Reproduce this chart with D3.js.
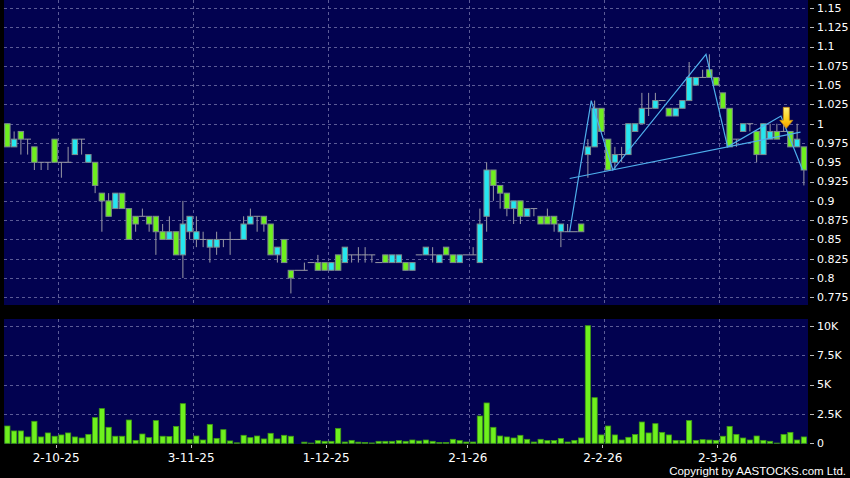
<!DOCTYPE html>
<html>
<head>
<meta charset="utf-8">
<script src="https://cdn.jsdelivr.net/npm/d3@7/dist/d3.min.js"></script>
<style>
  html, body { margin: 0; padding: 0; background: #000; }
  svg { display: block; }
</style>
</head>
<body>
<svg id="chart"></svg>
<script>
// daily candles, oldest first (index 0 .. 118)
const opens  = [1.00,0.97,0.99,0.98,0.97,0.95,0.95,0.98,0.95,0.95, 0.96,0.98,0.95,0.95,0.91,0.90,0.89,0.91,0.89,0.88,
                0.88,0.88,0.88,0.86,0.85,0.86,0.83,0.86,0.85,0.85, 0.84,0.84,0.85,0.85,0.85,0.85,0.87,0.88,0.88,0.87,
                0.83,0.85,0.81,0.81,0.81,0.82,0.82,0.82,0.81,0.83, 0.82,0.83,0.83,0.83,0.83,0.82,0.83,0.82,0.82,0.82,
                0.81,0.83,0.83,0.83,0.82,0.84,0.83,0.82,0.83,0.83, 0.82,0.88,0.94,0.92,0.91,0.89,0.90,0.88,0.89,0.88,
                0.88,0.88,0.86,0.86,0.86,0.87,0.96,0.97,1.02,0.98, 0.95,0.96,0.96,0.99,1.00,1.02,1.02,1.03,1.02,1.01,
                1.02,1.03,1.05,1.06,1.07,1.06,1.04,1.02,0.98,0.99, 1.00,0.99,0.96,0.98,0.99,0.99,0.99,0.97,0.97];
const highs  = [1.00,0.99,0.99,0.98,0.97,0.95,0.95,0.98,0.95,0.97, 0.98,0.98,0.96,0.95,0.91,0.91,0.91,0.91,0.89,0.88,
                0.89,0.88,0.88,0.87,0.88,0.86,0.90,0.88,0.88,0.86, 0.85,0.86,0.85,0.86,0.85,0.88,0.89,0.88,0.88,0.87,
                0.84,0.85,0.81,0.81,0.82,0.82,0.83,0.82,0.82,0.83, 0.84,0.83,0.84,0.84,0.83,0.82,0.83,0.83,0.83,0.82,
                0.82,0.83,0.84,0.84,0.83,0.84,0.83,0.83,0.83,0.84, 0.89,0.95,0.94,0.92,0.91,0.90,0.90,0.89,0.89,0.88,
                0.89,0.88,0.87,0.87,0.86,0.87,0.98,1.03,1.02,0.98, 0.97,0.97,1.00,1.00,1.04,1.04,1.04,1.03,1.02,1.02,
                1.03,1.08,1.06,1.07,1.09,1.06,1.04,1.02,0.98,1.00, 1.00,0.99,1.00,1.00,1.00,1.00,0.99,1.00,0.97];
const lows   = [0.97,0.97,0.96,0.96,0.94,0.94,0.94,0.95,0.93,0.95, 0.96,0.96,0.95,0.91,0.86,0.88,0.89,0.89,0.85,0.86,
                0.88,0.86,0.83,0.85,0.85,0.83,0.80,0.85,0.84,0.84, 0.82,0.83,0.84,0.83,0.85,0.85,0.87,0.86,0.86,0.83,
                0.82,0.82,0.78,0.81,0.81,0.82,0.81,0.81,0.81,0.81, 0.82,0.82,0.82,0.82,0.82,0.82,0.82,0.82,0.82,0.81,
                0.81,0.83,0.83,0.82,0.82,0.83,0.82,0.82,0.83,0.83, 0.82,0.86,0.90,0.89,0.88,0.87,0.87,0.88,0.88,0.87,
                0.87,0.86,0.84,0.86,0.86,0.86,0.93,0.97,0.99,0.94, 0.94,0.95,0.96,0.99,1.00,1.01,1.02,1.03,1.01,1.01,
                1.02,1.03,1.05,1.06,1.06,1.05,1.02,0.97,0.97,0.99, 0.99,0.95,0.96,0.98,0.98,0.99,0.97,0.97,0.92];
const closes = [0.97,0.98,0.98,0.98,0.95,0.95,0.95,0.95,0.95,0.95, 0.98,0.98,0.96,0.92,0.90,0.88,0.91,0.89,0.85,0.87,
                0.88,0.87,0.86,0.85,0.86,0.83,0.87,0.88,0.86,0.85, 0.85,0.85,0.85,0.85,0.85,0.87,0.88,0.88,0.87,0.83,
                0.84,0.82,0.80,0.81,0.81,0.82,0.81,0.81,0.82,0.81, 0.84,0.83,0.83,0.83,0.83,0.82,0.82,0.83,0.83,0.81,
                0.82,0.83,0.84,0.83,0.83,0.83,0.82,0.83,0.83,0.83, 0.87,0.94,0.92,0.91,0.89,0.90,0.88,0.89,0.89,0.87,
                0.87,0.87,0.87,0.86,0.86,0.86,0.97,1.02,0.99,0.94, 0.96,0.96,1.00,1.00,1.02,1.02,1.03,1.03,1.01,1.02,
                1.03,1.06,1.06,1.06,1.06,1.05,1.02,0.97,0.98,1.00, 1.00,0.96,1.00,0.99,0.98,0.99,0.97,0.98,0.94];
const volumes = [1470,1050,1050,540,1870,540,880,600,710,880, 540,450,760,2180,2950,1360,600,600,1980,250,
                 790,480,1930,600,570,1440,3370,310,620,280, 1610,420,1160,200,40,680,480,620,370,850,
                 370,680,600,0,100,20,230,170,170,1270, 110,250,100,60,30,170,170,170,230,170,
                 280,200,280,170,60,60,340,230,110,110, 2320,3430,1360,620,540,450,680,340,110,340,
                 230,230,400,110,250,450,10000,3880,710,1470, 710,280,510,740,1810,880,1670,930,710,250,
                 230,1930,250,310,280,250,600,1440,760,450, 280,620,250,170,20,760,930,280,540];

// axis ticks
const priceTicks = [1.15,1.125,1.1,1.075,1.05,1.025,1,0.975,0.95,0.925,0.9,0.875,0.85,0.825,0.8,0.775];
const volTicks = [0,2500,5000,7500,10000];
const volTickLabels = ['0','2.5K','5K','7.5K','10K'];
const dateLabels = ['2-10-25','3-11-25','1-12-25','2-1-26','2-2-26','2-3-26'];
const dateIndex = [7,27,47,68,88,105];

// pattern annotation (zigzag + neckline) and sell signal
const zigzagIdx = [83.3,86.5,89.7,103.5,106.7,114.6,117.8];
const zigzagPrice = [0.86,1.03,0.94,1.09,0.97,1.01,0.94];
const necklineIdx = [83.3,117.5];
const necklinePrice = [0.929,0.989];
const signalIdx = 115.4;
const signalPrice = 0.994;

class CandleChart {

    constructor(_config, _data) {
        this.config = {
            parentElement: _config.parentElement,
            containerWidth: _config.containerWidth || 850,
            containerHeight: _config.containerHeight || 478,
            plotLeft: 4,
            plotRight: 808,
            price: { top: 0, bottom: 305 },
            volume: { top: 319, bottom: 444 }
        }
        this.data = _data;
        this.initVis();
    }

    initVis() {
        let vis = this;
        const c = vis.config;

        vis.svg = d3.select(c.parentElement)
            .attr('width', c.containerWidth)
            .attr('height', c.containerHeight)
            .style('background', '#000');

        // panels
        vis.svg.append('rect')
            .attr('x', c.plotLeft).attr('y', c.price.top)
            .attr('width', c.plotRight - c.plotLeft).attr('height', c.price.bottom - c.price.top)
            .attr('fill', '#020250');
        vis.svg.append('rect')
            .attr('x', c.plotLeft).attr('y', c.volume.top)
            .attr('width', c.plotRight - c.plotLeft).attr('height', c.volume.bottom - c.volume.top)
            .attr('fill', '#020250');

        vis.n = vis.data.length;
        vis.xScale = d3.scaleLinear()
            .domain([-0.5, vis.n - 0.5])
            .range([c.plotLeft, c.plotLeft + vis.n * 6.75]);
        vis.yScale = d3.scaleLinear()
            .domain([0.775, 1.15])
            .range([297.3, 8]);
        vis.vScale = d3.scaleLinear()
            .domain([0, 10000])
            .range([443.3, 325.7]);

        vis.grid = vis.svg.append('g');
        vis.chart = vis.svg.append('g');
        vis.axes = vis.svg.append('g');

        vis.updateVis();
    }

    updateVis() {
        let vis = this;
        vis.step = vis.xScale(1) - vis.xScale(0);
        vis.upColor = '#25e6f0';
        vis.downColor = '#6ef01e';
        vis.renderVis();
    }

    renderVis() {
        let vis = this;
        const c = vis.config;
        const gridColor = '#7272a8';

        // horizontal grid, price
        vis.grid.selectAll('.pgrid')
            .data(priceTicks)
            .join('line')
                .attr('class', 'pgrid')
                .attr('x1', c.plotLeft).attr('x2', c.plotRight)
                .attr('y1', d => Math.round(vis.yScale(d)) + 0.5)
                .attr('y2', d => Math.round(vis.yScale(d)) + 0.5)
                .attr('stroke', gridColor).attr('stroke-dasharray', '3,3').attr('stroke-width', 0.8);

        vis.grid.selectAll('.vgrid')
            .data(volTicks.slice(1))
            .join('line')
                .attr('class', 'vgrid')
                .attr('x1', c.plotLeft).attr('x2', c.plotRight)
                .attr('y1', d => Math.round(vis.vScale(d)) + 0.5)
                .attr('y2', d => Math.round(vis.vScale(d)) + 0.5)
                .attr('stroke', gridColor).attr('stroke-dasharray', '3,3').attr('stroke-width', 0.8);

        // vertical grid at month starts
        [c.price, c.volume].forEach((p, k) => {
            vis.grid.selectAll('.dgrid' + k)
                .data(dateIndex)
                .join('line')
                    .attr('class', 'dgrid' + k)
                    .attr('x1', d => Math.round(vis.xScale(d) + 3) + 0.5)
                    .attr('x2', d => Math.round(vis.xScale(d) + 3) + 0.5)
                    .attr('y1', p.top).attr('y2', p.bottom)
                    .attr('stroke', gridColor).attr('stroke-dasharray', '3,3').attr('stroke-width', 0.8);
        });

        // candles
        const candles = vis.chart.selectAll('.candle')
            .data(vis.data)
            .join('g')
                .attr('class', 'candle');

        candles.append('line')
            .attr('x1', d => vis.xScale(d.i)).attr('x2', d => vis.xScale(d.i))
            .attr('y1', d => vis.yScale(d.high)).attr('y2', d => vis.yScale(d.low))
            .attr('stroke', '#9a9aa4').attr('stroke-width', 1);

        candles.filter(d => d.open === d.close)
            .append('line')
                .attr('x1', d => vis.xScale(d.i - 0.5)).attr('x2', d => vis.xScale(d.i + 0.5))
                .attr('y1', d => vis.yScale(d.close)).attr('y2', d => vis.yScale(d.close))
                .attr('stroke', '#9a9aa4').attr('stroke-width', 1);

        candles.filter(d => d.open !== d.close)
            .append('rect')
                .attr('x', d => vis.xScale(d.i) - 2.7)
                .attr('width', 5.4)
                .attr('y', d => vis.yScale(Math.max(d.open, d.close)))
                .attr('height', d => Math.abs(vis.yScale(d.open) - vis.yScale(d.close)))
                .attr('fill', d => d.close > d.open ? vis.upColor : vis.downColor)
                .attr('stroke', '#7d8a8c').attr('stroke-width', 1);

        // volume bars
        vis.chart.selectAll('.vol')
            .data(vis.data.filter(d => d.volume > 0))
            .join('rect')
                .attr('class', 'vol')
                .attr('x', d => vis.xScale(d.i) - 2.6)
                .attr('width', 5.2)
                .attr('y', d => vis.vScale(d.volume))
                .attr('height', d => vis.vScale(0) - vis.vScale(d.volume))
                .attr('fill', '#6ef01e')
                .attr('stroke', '#3f9a14').attr('stroke-width', 0.8);

        // pattern lines
        const line = d3.line()
            .x(d => vis.xScale(d[0]))
            .y(d => vis.yScale(d[1]));
        vis.chart.append('path')
            .datum(d3.zip(necklineIdx, necklinePrice))
            .attr('d', line)
            .attr('fill', 'none').attr('stroke', '#4fb0ec').attr('stroke-width', 1.2);
        vis.chart.append('path')
            .datum(d3.zip(zigzagIdx, zigzagPrice))
            .attr('d', line)
            .attr('fill', 'none').attr('stroke', '#4fb0ec').attr('stroke-width', 1.2);

        // signal arrow
        const defs = vis.svg.append('defs');
        const grad = defs.append('linearGradient')
            .attr('id', 'arrowGrad').attr('x1', 0).attr('x2', 0).attr('y1', 0).attr('y2', 1);
        grad.append('stop').attr('offset', '0%').attr('stop-color', '#fff27a');
        grad.append('stop').attr('offset', '55%').attr('stop-color', '#ffd21a');
        grad.append('stop').attr('offset', '100%').attr('stop-color', '#f29a00');
        const ax = vis.xScale(signalIdx);
        const ay = vis.yScale(signalPrice);
        vis.chart.append('path')
            .attr('d', `M${ax - 3},${ay - 21} L${ax + 3},${ay - 21} L${ax + 3},${ay - 8} L${ax + 6.5},${ay - 8}
                        L${ax},${ay} L${ax - 6.5},${ay - 8} L${ax - 3},${ay - 8} Z`)
            .attr('fill', 'url(#arrowGrad)')
            .attr('stroke', '#c98a10').attr('stroke-width', 0.8);

        // right axis, price
        const labelX = c.plotRight + 9;
        vis.axes.selectAll('.ptick')
            .data(priceTicks)
            .join('line')
                .attr('class', 'ptick')
                .attr('x1', c.plotRight + 2).attr('x2', c.plotRight + 6)
                .attr('y1', d => Math.round(vis.yScale(d)) + 0.5)
                .attr('y2', d => Math.round(vis.yScale(d)) + 0.5)
                .attr('stroke', '#bbb');
        vis.axes.selectAll('.plabel')
            .data(priceTicks)
            .join('text')
                .attr('class', 'plabel')
                .attr('x', labelX)
                .attr('y', d => vis.yScale(d))
                .attr('dy', '0.35em')
                .attr('fill', '#fff')
                .style('font', '11px "DejaVu Sans", sans-serif')
                .text(d => d3.format('')(d));

        // right axis, volume
        vis.axes.selectAll('.vtick')
            .data(volTicks)
            .join('line')
                .attr('class', 'vtick')
                .attr('x1', c.plotRight + 2).attr('x2', c.plotRight + 6)
                .attr('y1', d => Math.round(vis.vScale(d)) + 0.5)
                .attr('y2', d => Math.round(vis.vScale(d)) + 0.5)
                .attr('stroke', '#bbb');
        vis.axes.selectAll('.vlabel')
            .data(volTicks)
            .join('text')
                .attr('class', 'vlabel')
                .attr('x', labelX)
                .attr('y', d => vis.vScale(d))
                .attr('dy', '0.35em')
                .attr('fill', '#fff')
                .style('font', '11px "DejaVu Sans", sans-serif')
                .text((d, i) => volTickLabels[i]);

        // date axis
        vis.axes.selectAll('.dtick')
            .data(dateIndex)
            .join('line')
                .attr('class', 'dtick')
                .attr('x1', d => Math.round(vis.xScale(d) + 1) + 0.5)
                .attr('x2', d => Math.round(vis.xScale(d) + 1) + 0.5)
                .attr('y1', c.volume.bottom + 1).attr('y2', c.volume.bottom + 4)
                .attr('stroke', '#bbb');
        vis.axes.selectAll('.dlabel')
            .data(dateIndex)
            .join('text')
                .attr('class', 'dlabel')
                .attr('x', d => vis.xScale(d) + 1.5)
                .attr('y', 462)
                .attr('text-anchor', 'middle')
                .attr('fill', '#fff')
                .style('font', '12px "DejaVu Sans", sans-serif')
                .text((d, i) => dateLabels[i]);

        vis.axes.append('text')
            .attr('x', 846).attr('y', 475)
            .attr('text-anchor', 'end')
            .attr('fill', '#fff')
            .style('font', '11.5px "Liberation Sans", Arial, sans-serif')
            .text('Copyright by AASTOCKS.com Ltd.');
    }
}

const data = opens.map((o, i) => ({
    i: i,
    open: o,
    high: highs[i],
    low: lows[i],
    close: closes[i],
    volume: volumes[i]
}));

let chart = new CandleChart({ parentElement: '#chart' }, data);
</script>
</body>
</html>
